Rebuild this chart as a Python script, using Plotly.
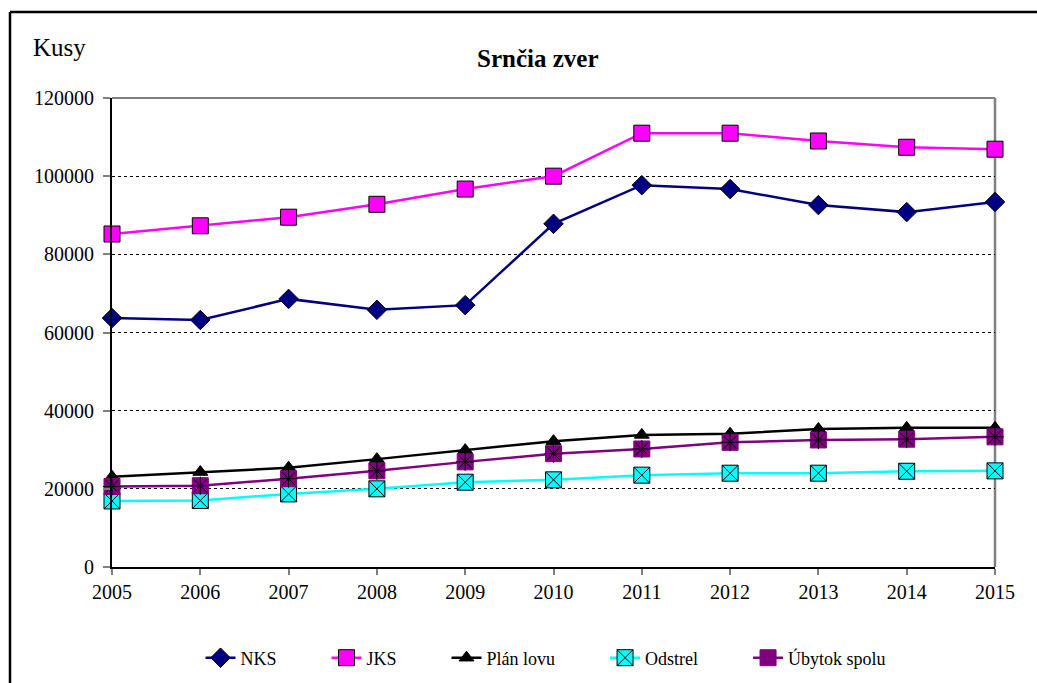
import plotly.graph_objects as go

years = [2005, 2006, 2007, 2008, 2009, 2010, 2011, 2012, 2013, 2014, 2015]
nks = [63700, 63200, 68600, 65800, 67000, 87800, 97700, 96700, 92600, 90800, 93400]
jks = [85200, 87300, 89500, 92800, 96700, 100000, 111000, 111000, 109000, 107400, 106900]
plan_lovu = [23100, 24300, 25400, 27600, 29900, 32200, 33800, 34100, 35300, 35600, 35600]
odstrel = [16900, 17000, 18700, 20000, 21700, 22300, 23500, 24000, 24000, 24500, 24600]
ubytok = [20600, 20800, 22600, 24600, 26900, 29000, 30200, 31900, 32500, 32700, 33300]
y_ticks = [0, 20000, 40000, 60000, 80000, 100000, 120000]
names = ["NKS", "JKS", "Plán lovu", "Odstrel", "Úbytok spolu"]

W, H = 1037, 683
L, R, T, B = 112, 995, 98, 567
FONT = "Times New Roman, Liberation Serif, DejaVu Serif, serif"

def px(x):
    return (x - L) / (R - L)

def py(y):
    return (B - y) / (B - T)

pad = "\u00a0" * 10

fig = go.Figure()

fig.add_trace(go.Scatter(x=years, y=nks, name=names[0] + pad, mode="lines+markers",
    line=dict(color="#000080", width=2.5),
    marker=dict(symbol="diamond", size=15, color="#000080", line=dict(color="black", width=1)),
    cliponaxis=False))
fig.add_trace(go.Scatter(x=years, y=jks, name=names[1] + pad, mode="lines+markers",
    line=dict(color="#FF00FF", width=2.5),
    marker=dict(symbol="square", size=16, color="#FF00FF", line=dict(color="black", width=1)),
    cliponaxis=False))
fig.add_trace(go.Scatter(x=years, y=plan_lovu, name=names[2] + pad, mode="lines+markers",
    line=dict(color="black", width=2.5),
    marker=dict(symbol="triangle-up", size=13, color="black", line=dict(color="black", width=1)),
    cliponaxis=False))
fig.add_trace(go.Scatter(x=years, y=odstrel, name=names[3] + pad, mode="lines+markers",
    line=dict(color="#00FFFF", width=2.5),
    marker=dict(symbol="square-x", size=16, color="#00FFFF", line=dict(color="black", width=1)),
    cliponaxis=False))
fig.add_trace(go.Scatter(x=years, y=ubytok, name=names[4], mode="lines+markers",
    line=dict(color="#800080", width=2.5),
    marker=dict(symbol="square", size=16, color="#800080", line=dict(color="#800080", width=1)),
    cliponaxis=False))
fig.add_trace(go.Scatter(x=years, y=ubytok, mode="markers", showlegend=False, hoverinfo="skip",
    marker=dict(symbol="asterisk-open", size=15, color="black", line=dict(color="black", width=1)),
    cliponaxis=False))

fig.update_layout(
    width=W, height=H,
    margin=dict(l=L, r=W - R, t=T, b=H - B, autoexpand=False),
    paper_bgcolor="white", plot_bgcolor="white",
    font=dict(family=FONT, color="black", size=20),
    showlegend=True,
    legend=dict(orientation="h", x=px(546), xanchor="center", y=py(658), yanchor="middle",
                font=dict(family=FONT, size=18), tracegroupgap=0),
    xaxis=dict(range=[2005, 2015], tickmode="array", tickvals=years, ticktext=[str(y) for y in years],
               showgrid=False, zeroline=False, showline=True, linecolor="black", linewidth=2,
               ticks="outside", ticklen=6, tickcolor="#808080", tickwidth=1.5,
               tickfont=dict(family=FONT, size=20)),
    yaxis=dict(range=[0, 120000], tickmode="array", tickvals=y_ticks, ticktext=[str(v) + " " for v in y_ticks],
               showgrid=True, gridcolor="black", gridwidth=1, griddash="dot", zeroline=False,
               showline=True, linecolor="black", linewidth=2,
               ticks="outside", ticklen=7, tickcolor="#808080", tickwidth=1.5,
               tickfont=dict(family=FONT, size=20)),
    shapes=[
        dict(type="line", xref="paper", yref="paper", x0=0, x1=1, y0=1, y1=1,
             line=dict(color="#808080", width=2), layer="above"),
        dict(type="line", xref="paper", yref="paper", x0=1, x1=1, y0=0, y1=1,
             line=dict(color="#808080", width=2.5), layer="below"),
        dict(type="line", xref="paper", yref="paper", x0=px(10), x1=px(1040), y0=py(12), y1=py(12),
             line=dict(color="black", width=2.5)),
        dict(type="line", xref="paper", yref="paper", x0=px(10), x1=px(10), y0=py(690), y1=py(12),
             line=dict(color="black", width=2.5)),
    ],
    annotations=[
        dict(text="<b>Srnčia zver</b>", xref="paper", yref="paper", x=px(537), y=py(58),
             xanchor="center", yanchor="middle", showarrow=False,
             font=dict(family=FONT, size=25)),
        dict(text="Kusy", xref="paper", yref="paper", x=px(31), y=py(48),
             xanchor="left", yanchor="middle", showarrow=False,
             font=dict(family=FONT, size=25)),
    ],
)

fig.write_html("out.html", config={"displayModeBar": False},
               post_script="document.body.style.margin='0';document.body.style.overflow='hidden';")
